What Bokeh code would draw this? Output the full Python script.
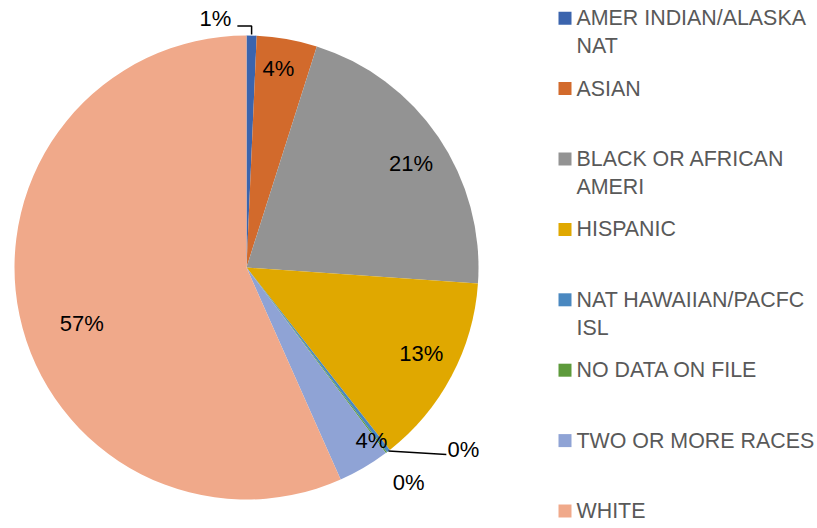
import math
from bokeh.plotting import figure
from bokeh.models import ColumnDataSource, Range1d
from bokeh.embed import file_html
from bokeh.resources import INLINE
from bokeh.core.properties import value

# ---- data ----
categories = [
    "AMER INDIAN/ALASKA\nNAT",
    "ASIAN",
    "BLACK OR AFRICAN\nAMERI",
    "HISPANIC",
    "NAT HAWAIIAN/PACFC\nISL",
    "NO DATA ON FILE",
    "TWO OR MORE RACES",
    "WHITE",
]
shares = [0.7, 4.2, 21.2, 13.3, 0.25, 0.1, 3.6, 56.65]
colors = ["#3B64AD", "#D26A2C", "#939393", "#E0A800",
          "#4A88C0", "#5D9A3B", "#8FA3D5", "#F0A98A"]

# ---- layout / style ----
W, H = 817, 528
CX, CY, R = 246, 261, 232
label_offset_deg = [-8.4, -1.0, 1.8, -1.6, -12.3, 0.0, -5.4, -6.9]
label_rfrac = [1.08, 0.87, 0.84, 0.84, 1.22, 1.16, 0.92, 0.75]
leader_kind = ["elbow", None, None, None, "side", None, None, None]
FONT = "Liberation Sans"
LABEL_SIZE = "22px"
LEGEND_SIZE = "21.4px"
LEG_SQ_X, LEG_TXT_X = 564.5, 576
LEG_TOP, LEG_STEP, LEG_LINE = 510.3, 70.4, 27.7

total = sum(shares)
starts, ends, mids = [], [], []
cum = 0.0
for s in shares:
    f0 = cum / total
    cum += s
    f1 = cum / total
    starts.append(math.pi / 2 - 2 * math.pi * f0)
    ends.append(math.pi / 2 - 2 * math.pi * f1)
    mids.append(360.0 * (f0 + f1) / 2)  # degrees clockwise from top

p = figure(width=W, height=H, output_backend="svg", toolbar_location=None,
           x_range=Range1d(0, W), y_range=Range1d(0, H),
           x_axis_type=None, y_axis_type=None,
           min_border=0, min_border_left=0, min_border_right=0,
           min_border_top=0, min_border_bottom=0)
p.grid.visible = False
p.outline_line_color = None
p.background_fill_color = "white"
p.border_fill_color = "white"

src = ColumnDataSource(dict(start=starts, end=ends, color=colors,
                            cat=categories, share=shares))
p.wedge(x=CX, y=CY, radius=R, start_angle="start", end_angle="end",
        direction="clock", fill_color="color", line_color=None, source=src)

# ---- data labels ----
lx, ly, lt = [], [], []
for i, s in enumerate(shares):
    a = math.radians(mids[i] + label_offset_deg[i])
    r = label_rfrac[i] * R
    x = CX + r * math.sin(a)
    y = CY + r * math.cos(a)
    lx.append(x)
    ly.append(y)
    lt.append(f"{round(s / total * 100)}%")
    ea = math.radians(mids[i])
    ex = CX + R * math.sin(ea)
    ey = CY + R * math.cos(ea)
    if leader_kind[i] == "elbow":
        hx = x + 22
        hy = y - 7
        p.line([hx, ex, ex], [hy, hy, ey + 1], line_color="black", line_width=1.5)
    elif leader_kind[i] == "side":
        p.line([ex, x - 17], [ey, y - 5], line_color="black", line_width=1.5)

p.text(x=lx, y=ly, text=lt, text_font=value(FONT), text_font_size=LABEL_SIZE,
       text_color="black", text_align="center", text_baseline="middle")

# ---- legend (manual, with wrapped entries) ----
sq_x, sq_y, sq_c = [], [], []
tx, ty, tt = [], [], []
for i, cat in enumerate(categories):
    yrow = LEG_TOP - i * LEG_STEP
    sq_x.append(LEG_SQ_X)
    sq_y.append(yrow)
    sq_c.append(colors[i])
    for j, line in enumerate(cat.split("\n")):
        tx.append(LEG_TXT_X)
        ty.append(yrow - j * LEG_LINE)
        tt.append(line)

p.rect(x=sq_x, y=sq_y, width=13, height=13, fill_color=sq_c, line_color=None)
p.text(x=tx, y=ty, text=tt, text_font=value(FONT), text_font_size=LEGEND_SIZE,
       text_color="#595959", text_align="left", text_baseline="middle")

open("out.html", "w").write(file_html(p, INLINE))
